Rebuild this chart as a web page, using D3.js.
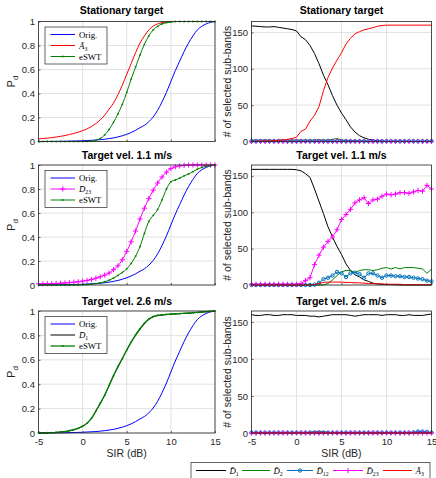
<!DOCTYPE html>
<html><head><meta charset="utf-8">
<script src="https://cdn.jsdelivr.net/npm/d3@7"></script>
<style>body{margin:0;background:#fff}</style>
</head><body>
<svg id="chart" width="436" height="478"></svg>
<script>
// ---------------- data ----------------
const sir = [-5,-4.5,-4,-3.5,-3,-2.5,-2,-1.5,-1,-0.5,0,0.5,1,1.5,2,2.5,3,3.5,4,4.5,5,5.5,6,6.5,7,7.5,8,8.5,9,9.5,10,10.5,11,11.5,12,12.5,13,13.5,14,14.5,15];
const xTicks = [-5,0,5,10,15];
const pdTicks = [0,0.2,0.4,0.6,0.8,1];
const countTicks = [0,50,100,150];
const titles = ["Stationary target","Target vel. 1.1 m/s","Target vel. 2.6 m/s"];

// Pd curves (left column)
const origPd = [0,0.0005,0.001,0.001,0.001,0.002,0.002,0.003,0.004,0.005,0.006, 0.008,0.01,0.012,0.015,0.019,0.024,0.03,0.038,0.048,0.06, 0.075,0.093,0.115,0.135,0.165,0.205,0.26,0.33,0.41,0.5, 0.59,0.67,0.75,0.82,0.88,0.93,0.96,0.98,0.993,0.998];
const statA3Pd = [0.022,0.025,0.028,0.032,0.037,0.043,0.05,0.058,0.067,0.078,0.09, 0.105,0.125,0.15,0.18,0.22,0.27,0.32,0.39,0.47,0.56, 0.65,0.74,0.82,0.88,0.93,0.962,0.98,0.99,0.995,0.998, 1,1,1,1,1,1,1,1,1,1];
const statEswtPd = [0,0,0,0,0,0,0,0,0,0,0, 0.001,0.003,0.01,0.025,0.055,0.1,0.16,0.23,0.31,0.41, 0.52,0.62,0.72,0.81,0.88,0.93,0.96,0.98,0.99,0.996, 1,1,1,1,1,1,1,1,1,1];
const v11D23Pd = [0.01,0.01,0.011,0.012,0.013,0.015,0.017,0.02,0.023,0.027,0.032, 0.038,0.046,0.056,0.068,0.083,0.1,0.128,0.16,0.21,0.28, 0.36,0.45,0.55,0.64,0.72,0.79,0.85,0.9,0.94,0.97, 0.985,0.993,0.997,1,1,1,1,1,1,1];
const v11EswtPd = [0,0,0,0,0,0,0,0,0,0.001,0.002, 0.004,0.007,0.012,0.018,0.027,0.04,0.058,0.08,0.105,0.135, 0.18,0.24,0.32,0.43,0.53,0.58,0.63,0.71,0.8,0.86, 0.875,0.89,0.91,0.925,0.945,0.965,0.98,0.99,0.996,1];
const v26D1Pd = [0.001,0.001,0.002,0.003,0.005,0.008,0.012,0.018,0.026,0.038,0.055, 0.08,0.12,0.18,0.24,0.31,0.39,0.47,0.54,0.61,0.68, 0.745,0.8,0.85,0.895,0.93,0.952,0.962,0.967,0.971,0.974, 0.976,0.978,0.98,0.982,0.985,0.988,0.991,0.994,0.997,1];
const v26EswtPd = [0,0.001,0.002,0.003,0.005,0.008,0.012,0.019,0.027,0.039,0.056, 0.081,0.12,0.18,0.245,0.31,0.39,0.47,0.545,0.61,0.68, 0.745,0.805,0.855,0.9,0.935,0.955,0.965,0.968,0.972,0.975, 0.977,0.979,0.981,0.983,0.986,0.989,0.992,0.995,0.997,1];

// selected sub-band counts (right column)
const statD1 = [159,158.5,158,157.5,157.5,158,157,156,155,154,152, 144,140,132,121,107,91,78,63,50,39, 30,20,13,8,5,3,2,1,0.5,0, 0,0,0,0,0,0,0,0,0,0];
const statD2 = [2,2,2,2,2,1.5,2,2,2,2,2, 2,2,2,2,2.5,2,2,3,4,2, 1.5,1,1,0.5,0.5,0,0,0,0,0, 0,0,0,0,0,0,0,0,0,0];
const statD12 = [0.5,0.5,0.5,0.5,0.5,0.5,0.5,0.5,0.5,0.5,0.5, 0.5,0.5,0.5,0.5,0.5,0.5,0.5,0.5,0.5,0.5, 0.5,0.5,0.5,0.5,0.5,0.5,0.5,0.5,0.5,0.5, 0.5,0.5,0.5,0.5,0.5,0.5,0.5,0.5,0.5,0.5];
const statD23 = [0,0,0,0,0,0,0,0,0,0,0, 0,0,0,0,0,0,0,0,0,0, 0,0,0,0,0,0,0,0,0,0, 0,0,0,0,0,0,0,0,0,0];
const statA3 = [0,0.3,0.5,0.6,0.8,1,1.5,2,3,4,6, 14,17,28,36,48,70,88,101,112,122, 134,142,148,151,153.5,155,156.5,158.5,159.5,160, 160,160,160,160,160,160,160,160,160,160];

const v11D1 = [159,159,159,159,159,159,159,159,159,159,158.5, 157,153,148,132,115,98,80,66,53,42, 29,20,14,11,7,5,2.5,1.5,1,0.5, 0.5,0.3,0,0,0,0,0,0,0,0];
const v11D2 = [0,0,0,0,0,0,0,0,0,0,0, 0,0,0,0,0,0,2,7,13,18, 20,20,17,20,21,21,20,21,23,24, 22,24,22,24,24,24,23,22,16,22];
const v11D12 = [0,0,0,0,0,0,0,0,0,0,0, 0,0,0,0.5,3,8,10,13,18,16, 11,16,17,15,10,16,16,13,10,13, 13,12,12,11,11,10,9,8,6,5];
const v11D23 = [1,1,1,1,1,1,1,1,1,1,1, 2,6,10,28,41,52,60,66,76,90, 97,104,113,117,120,112,117,118,122,125, 124,125,127,127,126,128,130,129,137,132];
const v11A3 = [0,0,0,0,0,0,0,0,0,0,0, 0,0,0,0.5,2,3.5,4,4,4,4, 3.5,3.5,3,3,2.5,2,2,1.5,1.5,1, 1,1,1,0.5,0.5,0.5,0.5,0.5,0.5,0.5];

const v26D1 = [160,159,159,160,160,159,159,160,160,160,159, 159,159,158,158,157,158,159,160,160,160, 160,159,158,159,160,160,160,160,159,160, 160,160,159,159,160,159,159,159,160,161];
const v26D2 = [0.5,0.5,0.5,0.5,0.5,0.5,0.5,0.5,0.5,0.5,0.5, 0.5,0.5,1,2,2.5,2,1,0.5,0.5,0.5, 0.5,0.5,0.5,0.5,0.5,0.5,0.5,0.5,0.5,0.5, 0.5,0.5,0.5,0.5,0.5,0.5,0.5,0.5,0.5,0.5];
const v26D12 = [0.5,0.5,0.5,0.5,0.5,0.5,0.5,0.5,0.5,0.5,0.5, 0.5,0.5,0.5,0.5,0.5,0.5,0.5,0.5,0.5,0.5, 0.5,0.5,0.5,0.5,0.5,0.5,0.5,0.5,0.5,0.5, 0.5,0.5,0.5,0.5,0.5,1,2,2,1.5,0.5];
const v26D23 = [0,0,0,0,0,0,0,0,0,0,0, 0,0,0,0,0,0,0,0,0,0, 0,0,0,0,0,0,0,0,0,0, 0,0,0,0,0,0,0,0,0,0];
const v26A3 = [0,0,0,0,0,0,0,0,0,0,0, 0,0,0,0,0,0,0,0,0,0, 0,0,0,0,0,0,0,0,0,0, 0,0,0,0,0,0,0,0,0,0];

// ---------------- styles ----------------
const SANS = "'Liberation Sans', Arial, Helvetica, sans-serif";
const SERIF = "'Liberation Serif', 'Times New Roman', serif";
const AX = "#262626", GRID = "#e2e2e2";
const C = {orig:"#0000ff", red:"#ff0000", green:"#008000", mag:"#ff00ff", black:"#000000", d12:"#0072bd"};
const plainNum = d => String(d);

const svg = d3.select("#chart");
svg.append("rect").attr("width",436).attr("height",478).attr("fill","#fff");

const rowsY = [[21.5,141.5],[165,285],[311,433]];
const leftX = [38.5,215], rightX = [251.5,431.5];

function makeAxes(xr, yr, yDomain, yTicks, showX) {
  const x = d3.scaleLinear().domain([-5,15]).range(xr);
  const y = d3.scaleLinear().domain(yDomain).range([yr[1], yr[0]]);
  const g = svg.append("g");
  g.append("rect").attr("x",xr[0]).attr("y",yr[0]).attr("width",xr[1]-xr[0]).attr("height",yr[1]-yr[0]).attr("fill","#fff");
  g.selectAll(null).data(xTicks).enter().append("line")
    .attr("x1",d=>x(d)).attr("x2",d=>x(d)).attr("y1",yr[0]).attr("y2",yr[1])
    .attr("stroke",GRID).attr("stroke-width",1);
  g.selectAll(null).data(yTicks).enter().append("line")
    .attr("y1",d=>y(d)).attr("y2",d=>y(d)).attr("x1",xr[0]).attr("x2",xr[1])
    .attr("stroke",GRID).attr("stroke-width",1);
  const ay = g.append("g").attr("transform",`translate(${xr[0]},0)`)
    .call(d3.axisLeft(y).tickValues(yTicks).tickFormat(plainNum).tickSizeInner(-2).tickSizeOuter(0).tickPadding(3.5));
  ay.select(".domain").remove();
  ay.selectAll("line").attr("stroke",AX).attr("stroke-width",0.7);
  ay.selectAll("text").attr("font-family",SANS).attr("font-size",9.5).attr("fill",AX);
  const ax = g.append("g").attr("transform",`translate(0,${yr[1]})`)
    .call(d3.axisBottom(x).tickValues(xTicks).tickFormat(showX ? plainNum : "").tickSizeInner(-2).tickSizeOuter(0).tickPadding(5));
  ax.select(".domain").remove();
  ax.selectAll("line").attr("stroke",AX).attr("stroke-width",0.7);
  ax.selectAll("text").attr("font-family",SANS).attr("font-size",9.5).attr("fill",AX);
  return {x,y,g};
}

function drawBox(xr, yr) {
  svg.append("rect").attr("x",xr[0]).attr("y",yr[0]).attr("width",xr[1]-xr[0]).attr("height",yr[1]-yr[0])
    .attr("fill","none").attr("stroke",AX).attr("stroke-width",0.8);
}

function drawSeries(ax, vals, color, opts={}) {
  const line = d3.line().x((d,i)=>ax.x(sir[i])).y(d=>ax.y(d)).curve(opts.smooth ? d3.curveMonotoneX : d3.curveLinear);
  const g = svg.append("g");
  g.append("path").attr("d",line(vals)).attr("fill","none").attr("stroke",color).attr("stroke-width",opts.w||1);
  drawMarkers(g, vals.map((d,i)=>[ax.x(sir[i]),ax.y(d)]), color, opts.marker);
}

function drawMarkers(g, pts, color, marker) {
  if (!marker) return;
  if (marker === "plus") {
    g.selectAll(null).data(pts).enter().append("path")
      .attr("d",d=>`M${d[0]-2.6},${d[1]}H${d[0]+2.6}M${d[0]},${d[1]-2.6}V${d[1]+2.6}`)
      .attr("stroke",color).attr("stroke-width",1).attr("fill","none");
  } else if (marker === "circle") {
    g.selectAll(null).data(pts).enter().append("circle")
      .attr("cx",d=>d[0]).attr("cy",d=>d[1]).attr("r",1.7)
      .attr("fill","none").attr("stroke",color).attr("stroke-width",1);
  } else if (marker === "dot") {
    g.selectAll(null).data(pts).enter().append("circle")
      .attr("cx",d=>d[0]).attr("cy",d=>d[1]).attr("r",0.9).attr("fill",color);
  }
}

function labelText(sel, spec) {
  if (spec.t) { sel.append("tspan").text(spec.t); return; }
  sel.append("tspan").attr("font-style","italic").text(spec.b + "\u0304");
  sel.append("tspan").attr("font-size",5.8).attr("dy",2).text(spec.s);
}

function leftLegend(xr, yr, items) {
  const bx = xr[0]+6.5, by = yr[0]+5.5, bw = 62, bh = 37;
  svg.append("rect").attr("x",bx).attr("y",by).attr("width",bw).attr("height",bh)
    .attr("fill","#fff").attr("stroke",AX).attr("stroke-width",0.7);
  items.forEach((it,i)=>{
    const yy = by + 7.5 + i*11;
    const g = svg.append("g");
    g.append("line").attr("x1",bx+5.5).attr("x2",bx+30).attr("y1",yy).attr("y2",yy)
      .attr("stroke",it.color).attr("stroke-width",it.w||1);
    drawMarkers(g, [[bx+17.75,yy]], it.color, it.marker);
    const t = g.append("text").attr("x",bx+34).attr("y",yy+3).attr("font-family",SERIF).attr("font-size",8.8).attr("fill","#000");
    labelText(t, it.label);
  });
}

const lab = {
  orig:{t:"Orig."}, eswt:{t:"eSWT"}, a3:{b:"A",s:"3"}, d1:{b:"D",s:"1"}, d2:{b:"D",s:"2"}, d12:{b:"D",s:"12"}, d23:{b:"D",s:"23"}
};
const leftSets = [
  [{v:origPd,c:C.orig,l:lab.orig},{v:statA3Pd,c:C.red,l:lab.a3},{v:statEswtPd,c:C.green,l:lab.eswt,m:"dot"}],
  [{v:origPd,c:C.orig,l:lab.orig},{v:v11D23Pd,c:C.mag,l:lab.d23,m:"plus"},{v:v11EswtPd,c:C.green,l:lab.eswt,m:"dot"}],
  [{v:origPd,c:C.orig,l:lab.orig},{v:v26D1Pd,c:C.black,l:lab.d1},{v:v26EswtPd,c:C.green,l:lab.eswt,m:"dot",w:1.3}]
];
const rightSets = [
  [statD1,statD2,statD12,statD23,statA3],
  [v11D1,v11D2,v11D12,v11D23,v11A3],
  [v26D1,v26D2,v26D12,v26D23,v26A3]
];
const rightStyle = [
  {c:C.black,l:lab.d1},{c:C.green,l:lab.d2},{c:C.d12,l:lab.d12,m:"circle"},{c:C.mag,l:lab.d23,m:"plus"},{c:C.red,l:lab.a3}
];
const titleY = [14, 158.5, 305];
const leftTitleX = [121.5, 127, 127];

for (let r=0;r<3;r++){
  const yr = rowsY[r];
  // left
  const axL = makeAxes(leftX, yr, [0,1], pdTicks, r===2);
  leftSets[r].forEach(s=>drawSeries(axL, s.v, s.c, {smooth:true, marker:s.m, w:s.w}));
  drawBox(leftX, yr);
  leftLegend(leftX, yr, leftSets[r].map(s=>({color:s.c,label:s.l,marker:s.m,w:s.w})));
  svg.append("text").attr("x",leftTitleX[r]).attr("y",titleY[r]).attr("text-anchor","middle")
    .attr("font-family",SANS).attr("font-weight","bold").attr("font-size",10.5).attr("fill","#000").text(titles[r]);
  const pl = svg.append("text").attr("transform",`translate(15,${(yr[0]+yr[1])/2}) rotate(-90)`)
    .attr("text-anchor","middle").attr("font-family",SANS).attr("font-size",11).attr("fill",AX);
  pl.append("tspan").text("P");
  pl.append("tspan").attr("font-size",8).attr("dy",2.5).text("d");

  // right
  const axR = makeAxes(rightX, yr, [0,165], countTicks, r===2);
  rightSets[r].forEach((vals,k)=>drawSeries(axR, vals, rightStyle[k].c, {marker:rightStyle[k].m}));
  drawBox(rightX, yr);
  svg.append("text").attr("x",(rightX[0]+rightX[1])/2).attr("y",titleY[r]).attr("text-anchor","middle")
    .attr("font-family",SANS).attr("font-weight","bold").attr("font-size",10.5).attr("fill","#000").text(titles[r]);
  svg.append("text").attr("transform",`translate(231,${(yr[0]+yr[1])/2}) rotate(-90)`)
    .attr("text-anchor","middle").attr("font-family",SANS).attr("font-size",10.5).attr("fill",AX).text("# of selected sub-bands");
}

[leftX,rightX].forEach(xr=>{
  svg.append("text").attr("x",(xr[0]+xr[1])/2).attr("y",457).attr("text-anchor","middle")
    .attr("font-family",SANS).attr("font-size",10.5).attr("fill",AX).text("SIR (dB)");
});

// bottom legend
const lgX = [196,242,287,333,383];
const lgW = [30,28,26,30,29];
const lgY = 470.5;
svg.append("rect").attr("x",191).attr("y",462.5).attr("width",239).attr("height",20)
  .attr("fill","#fff").attr("stroke",AX).attr("stroke-width",0.7);
rightStyle.forEach((s,k)=>{
  const g = svg.append("g");
  g.append("line").attr("x1",lgX[k]).attr("x2",lgX[k]+lgW[k]).attr("y1",lgY).attr("y2",lgY).attr("stroke",s.c).attr("stroke-width",1);
  drawMarkers(g, [[lgX[k]+lgW[k]/2, lgY]], s.c, s.m);
  const t = g.append("text").attr("x",lgX[k]+lgW[k]+3.5).attr("y",lgY+3).attr("font-family",SERIF).attr("font-size",8.8).attr("fill","#000");
  labelText(t, s.l);
});
</script>
</body></html>
